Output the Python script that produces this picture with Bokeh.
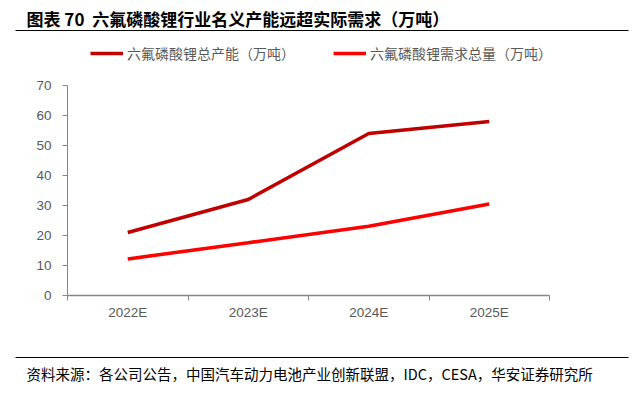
from bokeh.plotting import figure
from bokeh.models import (FixedTicker, Label, BoxAnnotation, Legend, LegendItem,
                          Range1d, ColumnDataSource, LinearAxis)
from bokeh.embed import file_html
from bokeh.resources import INLINE

years = ["2022E", "2023E", "2024E", "2025E"]
capacity = [21, 32, 54, 58]
demand = [12.2, 17.6, 23.1, 30.5]
y_ticks = [0, 10, 20, 30, 40, 50, 60, 70]

title_text = "图表 70\u00a0\u00a0六氟磷酸锂行业名义产能远超实际需求（万吨）"
source_text = "资料来源：各公司公告，中国汽车动力电池产业创新联盟，IDC，CESA，华安证券研究所"
cap_label = "六氟磷酸锂总产能（万吨）"
dem_label = "六氟磷酸锂需求总量（万吨）"

W, H = 630, 391
# plot-area placement (pixels from top-left of canvas)
PX0, PX1, PY0, PY1 = 67, 549, 85, 295
n = len(years)
ymax = y_ticks[-1]
xppu = (PX1 - PX0) / n
yppu = (PY1 - PY0) / ymax

cjk = "Noto Sans CJK SC"
axis_color = "#868686"
label_color = "#595959"

xs = [i + 0.5 for i in range(n)]
src = ColumnDataSource(dict(x=xs, cap=capacity, dem=demand))

p = figure(width=W, height=H, output_backend="svg", toolbar_location=None,
           x_range=Range1d(-PX0 / xppu, n + (W - PX1) / xppu),
           y_range=Range1d(-(H - PY1) / yppu, ymax + PY0 / yppu),
           x_axis_location=None, y_axis_location=None, min_border=0)
p.outline_line_color = None
p.grid.visible = False

r_cap = p.line("x", "cap", source=src, line_color="#C00000", line_width=3.5)
r_dem = p.line("x", "dem", source=src, line_color="#FF0000", line_width=3.5)

xa = LinearAxis(fixed_location=0, bounds=(0, n))
xa.ticker = FixedTicker(ticks=xs, minor_ticks=list(range(n + 1)))
xa.major_label_overrides = {x: y for x, y in zip(xs, years)}
xa.major_tick_out = 0
xa.major_tick_in = 0
xa.minor_tick_out = 5
xa.minor_tick_in = 0
xa.minor_tick_line_color = axis_color
xa.axis_line_color = axis_color
xa.axis_line_width = 1.5
xa.major_label_text_color = label_color
xa.major_label_text_font = "Liberation Sans"
xa.major_label_text_font_size = "13.5px"
xa.major_label_standoff = 4
p.add_layout(xa, "below")

ya = LinearAxis(fixed_location=0, bounds=(0, ymax))
ya.ticker = FixedTicker(ticks=y_ticks)
ya.minor_tick_line_color = None
ya.major_tick_out = 5
ya.major_tick_in = 0
ya.major_tick_line_color = axis_color
ya.axis_line_color = axis_color
ya.major_label_text_color = label_color
ya.major_label_text_font = "Liberation Sans"
ya.major_label_text_font_size = "13.5px"
ya.major_label_standoff = 11
p.add_layout(ya, "left")

p.add_layout(Label(x=26, y=H - 18, x_units="screen", y_units="screen",
                   text=title_text, text_font=cjk, text_font_style="bold",
                   text_font_size="17px", text_color="#000000", text_baseline="middle"))
p.add_layout(BoxAnnotation(left=15, right=628, top=H - 29.5, bottom=H - 30.5,
                           left_units="screen", right_units="screen",
                           top_units="screen", bottom_units="screen",
                           fill_color="#000000", fill_alpha=1, line_color=None))
p.add_layout(BoxAnnotation(left=15, right=628, top=H - 356.5, bottom=H - 357.5,
                           left_units="screen", right_units="screen",
                           top_units="screen", bottom_units="screen",
                           fill_color="#000000", fill_alpha=1, line_color=None))
p.add_layout(Label(x=26, y=H - 373, x_units="screen", y_units="screen",
                   text=source_text, text_font=cjk,
                   text_font_size="14.5px", text_color="#000000", text_baseline="middle"))

legend = Legend(items=[LegendItem(label=cap_label, renderers=[r_cap]),
                       LegendItem(label=dem_label, renderers=[r_dem])],
                orientation="horizontal", location=(90, H - 63),
                glyph_width=33, glyph_height=16, label_standoff=4, spacing=38,
                label_text_font=cjk, label_text_font_size="14px",
                label_text_color=label_color, background_fill_alpha=0,
                border_line_color=None, padding=0, margin=0)
p.add_layout(legend)

open("out.html", "w").write(file_html(p, INLINE))
